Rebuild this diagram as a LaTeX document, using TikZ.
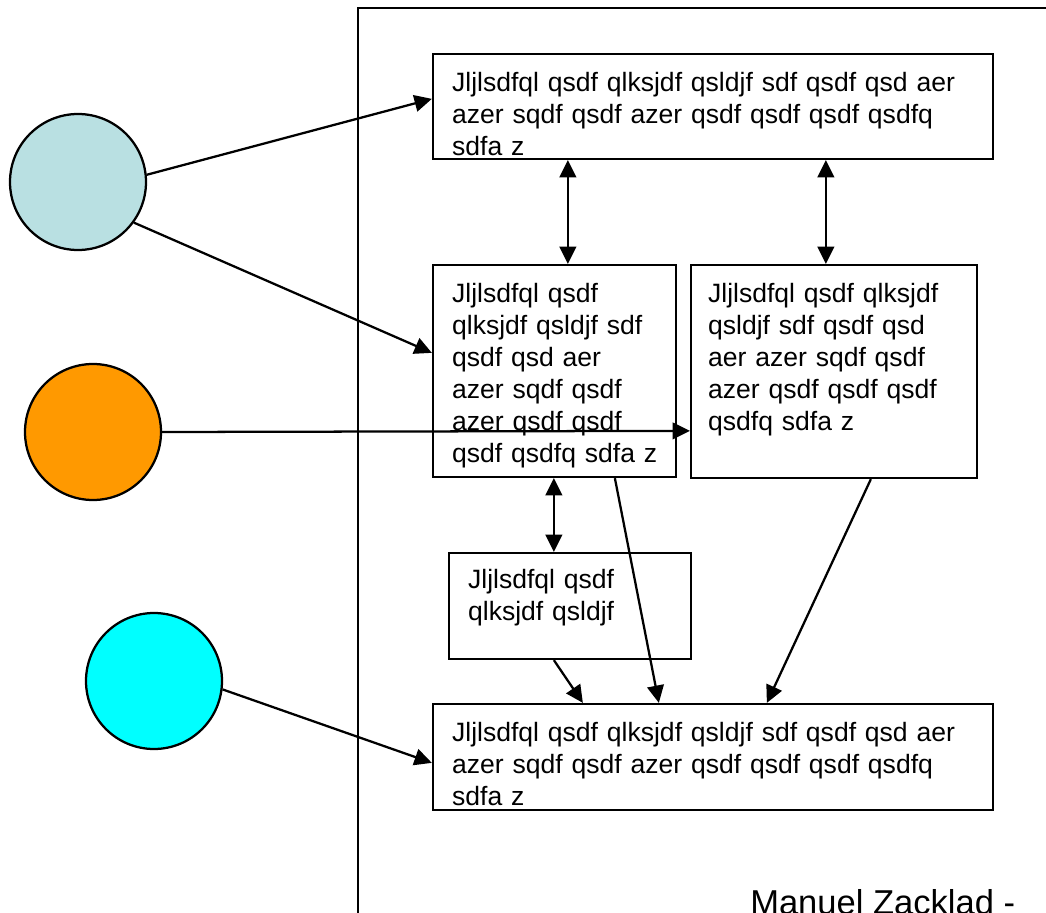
\documentclass[tikz,border=0pt]{standalone}
\usepackage{fontspec}
\setmainfont{Liberation Sans}
\usetikzlibrary{arrows.meta,calc}
\definecolor{paleblue}{RGB}{185,224,226}
\definecolor{orangefill}{RGB}{255,153,0}
\definecolor{cyanfill}{RGB}{0,255,255}
\begin{document}
\begin{tikzpicture}[x=0.75pt,y=-0.75pt,
  box/.style={draw,line width=1.7pt,rectangle,inner sep=0pt},
  bubble/.style={draw,line width=1.7pt,circle,inner sep=0pt,minimum size=102pt},
  txt/.style={anchor=north west,inner sep=0pt,align=left,text width=420pt,font=\fontsize{19.9pt}{24pt}\selectfont},
  tip/.style={Triangle[length=13pt,width=12.5pt]},
  arr/.style={line width=1.7pt,-{Triangle[length=13pt,width=12.5pt]}},
  darr/.style={line width=1.7pt,{Triangle[length=13pt,width=12.5pt]}-{Triangle[length=13pt,width=12.5pt]}}]
\useasboundingbox (0,0) rectangle (1046,913);
% frame
\draw[line width=1.7pt] (358,920) -- (358,8) -- (1050,8);
% boxes
\node[box,minimum width=420pt,minimum height=78.75pt] (top) at (713,106.5) {};
\node[box,minimum width=182.25pt,minimum height=159pt] (ml) at (554.5,371) {};
\node[box,minimum width=214.5pt,minimum height=159.75pt] (mr) at (834,371.5) {};
\node[box,minimum width=181.5pt,minimum height=79.5pt] (sm) at (570,606) {};
\node[box,minimum width=420pt,minimum height=79.5pt] (bot) at (713,757) {};
% texts
\node[txt] (ttop) at ($(top.north west)+(20,0)$) {\rule{0pt}{28.5pt}Jljlsdfql qsdf qlksjdf qsldjf sdf qsdf qsd aer\\azer sqdf qsdf azer qsdf qsdf qsdf qsdfq\\sdfa z};
\node[txt] (tml) at ($(ml.north west)+(20,0)$) {\rule{0pt}{28.5pt}Jljlsdfql qsdf\\qlksjdf qsldjf sdf\\qsdf qsd aer\\azer sqdf qsdf\\azer qsdf qsdf\\qsdf qsdfq sdfa z};
\node[txt] (tmr) at ($(mr.north west)+(18,0)$) {\rule{0pt}{28.5pt}Jljlsdfql qsdf qlksjdf\\qsldjf sdf qsdf qsd\\aer azer sqdf qsdf\\azer qsdf qsdf qsdf\\qsdfq sdfa z};
\node[txt] (tsm) at ($(sm.north west)+(20,0)$) {\rule{0pt}{27pt}Jljlsdfql qsdf\\qlksjdf qsldjf};
\node[txt] (tbot) at ($(bot.north west)+(20,0)$) {\rule{0pt}{28.5pt}Jljlsdfql qsdf qlksjdf qsldjf sdf qsdf qsd aer\\azer sqdf qsdf azer qsdf qsdf qsdf qsdfq\\sdfa z};
% circles
\node[bubble,fill=paleblue] (c1) at (78,182) {};
\node[bubble,fill=orangefill] (c2) at (93,432) {};
\node[bubble,fill=cyanfill] (c3) at (154,681) {};
% connectors
\draw[arr] (c1.6) -- ($(top.north west)+(0,46)$);
\draw[arr] (c1.-36) -- ($(ml.north west)+(0,89)$);
\draw[arr] (c2.east) -- ($(mr.north west)+(0,167)$);
\draw[arr] (c3.-7) -- ($(bot.north west)+(0,60)$);
\draw[darr] ($(top.south west)+(136,0)$) -- ($(ml.north west)+(136,0)$);
\draw[darr] ($(top.south west)+(394,0)$) -- ($(mr.north west)+(136,0)$);
\draw[darr] ($(ml.south west)+(122,0)$) -- ($(sm.north west)+(106,0)$);
\draw[arr] ($(sm.south west)+(106,0)$) -- ($(bot.north west)+(151,0)$);
\draw[arr] ($(ml.south west)+(183,0)$) -- ($(bot.north west)+(227,0)$);
\draw[arr] ($(mr.south west)+(181,0)$) -- ($(bot.north west)+(335,0)$);
% footer
\node[anchor=base west,inner sep=0pt,font=\fontsize{25.9pt}{30pt}\selectfont] (author) at (750,914) {Manuel Zacklad -};
\end{tikzpicture}
\end{document}
